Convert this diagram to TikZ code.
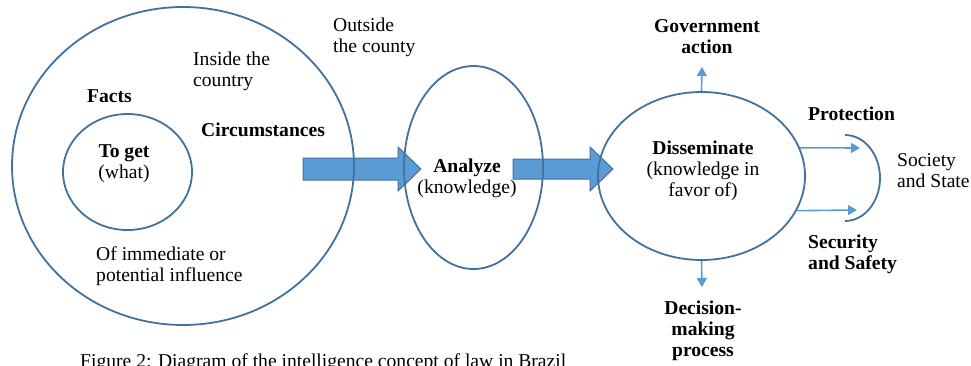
\documentclass[tikz,border=0pt]{standalone}
\usepackage{fontspec}
\setmainfont{Liberation Serif}
\usetikzlibrary{shapes.geometric,arrows.meta}
\definecolor{ringblue}{HTML}{41719C}
\definecolor{fillblue}{HTML}{5B9BD5}
\tikzset{
  ring/.style={draw=ringblue, line width=1.8pt, ellipse, inner sep=0pt},
  bigarrow/.style={fill=fillblue, draw=ringblue, line width=1pt, line join=miter},
  smallarrow/.style={draw=fillblue, line width=1.6pt, -{Triangle[length=9pt,width=10pt]}},
  txt/.style={inner sep=0pt, font=\fontsize{19.6}{20.8}\selectfont},
  btxt/.style={txt, font=\fontsize{19.6}{20.8}\selectfont\bfseries},
}
\begin{document}
\begin{tikzpicture}[x=1pt,y=-1pt]
\useasboundingbox (0,0) rectangle (971,365);
\clip (0,0) rectangle (971,365);
% block arrows (drawn first, rings overlap them)
\draw[bigarrow] (303,158) -- (398,158) -- (398,147) -- (421,169) -- (398,191) -- (398,180) -- (303,180) -- cycle;
\draw[bigarrow] (513,159) -- (590,159) -- (590,147) -- (613,169) -- (590,191) -- (590,179) -- (513,179) -- cycle;
% rings
\node[ring, minimum width=342pt, minimum height=318pt] (outer) at (183,166) {};
\node[ring, minimum width=129pt, minimum height=116pt] (inner) at (127.5,172) {};
\node[ring, minimum width=139pt, minimum height=203pt] (analyze) at (473.5,167.5) {};
\node[ring, minimum width=207pt, minimum height=168pt] (dissem) at (701.5,176) {};
% texts (base anchor = baseline of the last line)
\node[txt, anchor=base west, align=left] (outside) at (333,52) {Outside\\the county};
\node[txt, anchor=base west, align=left] (inside) at (193,86) {Inside the\\country};
\node[btxt, anchor=base west] (facts) at (87,102) {Facts};
\node[btxt, anchor=base west] (circ) at (201,136) {Circumstances};
\node[txt, anchor=base, align=center] (toget) at (124,178) {\textbf{To get}\\(what)};
\node[txt, anchor=base west, align=left] (ofimm) at (96,281) {Of immediate or\\potential influence};
\node[txt, anchor=base, align=center] (analyzet) at (467,193) {\textbf{Analyze}\\(knowledge)};
\node[txt, anchor=base, align=center] (dissemt) at (703,196) {\textbf{Disseminate}\\(knowledge in\\favor of)};
\node[btxt, anchor=base, align=center] (gov) at (707,53) {Government\\action};
\node[btxt, anchor=base west] (prot) at (808,120) {Protection};
\node[txt, anchor=base west, align=left] (soc) at (897,187) {Society\\and State};
\node[btxt, anchor=base west, align=left] (sec) at (808,269) {Security\\and Safety};
\node[btxt, anchor=base, align=center] (dec) at (703,356) {Decision-\\making\\process};
\node[txt, anchor=base west] (caption) at (80,367) {Figure 2: Diagram of the intelligence concept of law in Brazil};
% small arrows
\coordinate (gtip) at (702,67);
\coordinate (dtip) at (702,287);
\coordinate (ptip) at (860,148);
\coordinate (stip) at (857,210);
\draw[smallarrow] (dissem.north) -- (gtip);
\draw[smallarrow] (dissem.south) -- (dtip);
\draw[smallarrow] (dissem.16) -- (ptip);
\draw[smallarrow] (dissem.-20) -- (stip);
% society bracket
\draw[draw=ringblue, line width=1.8pt] (845,135) arc[start angle=-90, end angle=90, x radius=35, y radius=43];
\end{tikzpicture}
\end{document}
